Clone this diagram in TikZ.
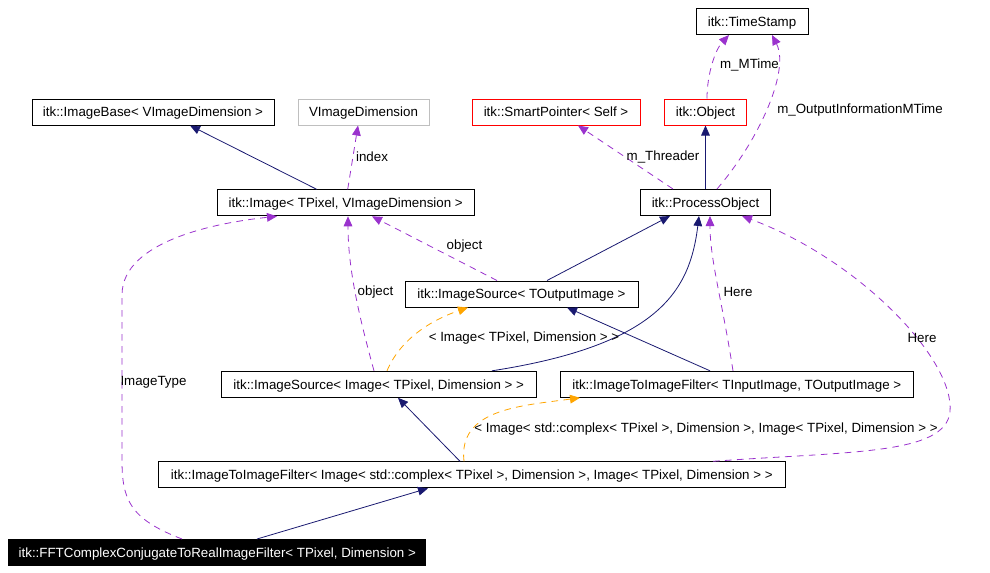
\documentclass[tikz,border=0pt]{standalone}
\usepackage{fontspec}
\setmainfont{Liberation Sans}
\usepackage{xcolor}
\usepackage{tikz}
\usetikzlibrary{calc, arrows.meta}

\definecolor{xanhdam}{HTML}{191970}
\definecolor{tim}{HTML}{9A32CD}
\definecolor{cam}{HTML}{FFA500}

\begin{document}
\begin{tikzpicture}[x=0.75pt, y=-0.75pt,
    every node/.style={font=\fontsize{10}{12}\selectfont},
    box/.style={draw=black, line width=0.75pt, rectangle, inner sep=0pt, minimum height=19.5pt, text height=7.3pt, text depth=0pt},
    boxred/.style={box, draw=red},
    boxgray/.style={box, draw=black!25},
    boxdark/.style={box, fill=black, text=white},
    inherit/.style={draw=xanhdam, line width=0.6pt, -{Triangle[length=7.5pt,width=6.5pt]}},
    usage/.style={draw=tim, line width=0.6pt, dash pattern=on 5pt off 4pt, -{Triangle[length=7.5pt,width=6.5pt,fill=tim]}},
    templ/.style={draw=cam, line width=0.6pt, dash pattern=on 5pt off 4pt, -{Triangle[length=7.5pt,width=6.5pt,fill=cam]}},
    lbl/.style={inner sep=0pt}]
    % Khung bao của hình
    \useasboundingbox (0,0) rectangle (990,572);

    % Các lớp (hộp) theo từng hàng
    \node[box, minimum width=84pt] (tstamp) at (752,21.5) {itk::TimeStamp};
    \node[box, minimum width=181.5pt] (ibase) at (153,112) {itk::ImageBase< VImageDimension >};
    \node[boxgray, minimum width=98.25pt] (vdim) at (363.5,112) {VImageDimension};
    \node[boxred, minimum width=126pt] (sptr) at (556,112) {itk::SmartPointer< Self >};
    \node[boxred, minimum width=61.5pt] (obj) at (705.5,112) {itk::Object};
    \node[box, minimum width=97.5pt] (pobj) at (705.5,202.5) {itk::ProcessObject};
    \node[box, minimum width=192.75pt] (img) at (345.7,202.8) {itk::Image< TPixel, VImageDimension >};
    \node[box, minimum width=174.75pt] (isrcout) at (521.5,294) {itk::ImageSource< TOutputImage >};
    \node[box, minimum width=236.25pt] (isrcimg) at (378.7,384.3) {itk::ImageSource< Image< TPixel, Dimension > >};
    \node[box, minimum width=264.75pt] (itifio) at (736.8,384.3) {itk::ImageToImageFilter< TInputImage, TOutputImage >};
    \node[box, minimum width=470.25pt] (itifcx) at (471.8,474.8) {itk::ImageToImageFilter< Image< std::complex< TPixel >, Dimension >, Image< TPixel, Dimension > >};
    \node[boxdark, minimum width=312.75pt] (fft) at (217.3,552.5) {itk::FFTComplexConjugateToRealImageFilter< TPixel, Dimension >};

    % Quan hệ kế thừa (nét liền)
    \draw[inherit] ($(img.north)+(-29,0)$) -- ($(ibase.south)+(37,0)$);
    \draw[inherit] (pobj.north) -- (obj.south);
    \draw[inherit] ($(isrcout.north)+(25.5,0)$) -- ($(pobj.south)+(-35.5,0)$);
    \draw[inherit] ($(isrcimg.north)+(113.3,0)$) .. controls +(168,-26) and +(-9,74) .. ($(pobj.south)+(-6.5,0)$);
    \draw[inherit] ($(itifio.north)+(-26.8,0)$) -- ($(isrcout.south)+(45.5,0)$);
    \draw[inherit] ($(itifcx.north)+(-11.8,0)$) -- ($(isrcimg.south)+(19.3,0)$);
    \draw[inherit] ($(fft.north)+(39.7,0)$) -- ($(itifcx.south)+(-43.8,0)$);

    % Quan hệ sử dụng (nét đứt tím)
    \draw[usage] ($(img.north)+(2,0)$) -- ($(vdim.south)+(-5.5,0)$);
    \draw[usage] ($(pobj.north)+(-32.5,0)$) -- ($(sptr.south)+(22,0)$);
    \draw[usage] ($(obj.north)+(1.5,0)$) .. controls +(0,-24) and +(-14,15) .. ($(tstamp.south)+(-23,0)$);
    \draw[usage] ($(pobj.north)+(11.5,0)$) .. controls +(43,-50) and +(18,35) .. ($(tstamp.south)+(20,0)$);
    \draw[usage] ($(isrcout.north)+(-24.5,0)$) -- ($(img.south)+(26.3,0)$);
    \draw[usage] ($(isrcimg.north)+(-4.7,0)$) .. controls +(-14,-51) and +(0,54) .. ($(img.south)+(2.3,0)$);
    \draw[usage] ($(itifio.north)+(-3.8,0)$) .. controls +(-11,-71) and +(0,44) .. ($(pobj.south)+(4.5,0)$);
    \draw[usage] ($(itifcx.north)+(241.2,0)$) .. controls +(137,-10) and +(-5,43) .. (950,412)
        .. controls +(5,-52) and +(118,44) .. ($(pobj.south)+(36.5,0)$);
    \draw[usage] ($(fft.north)+(-35.3,0)$) .. controls +(-52,-20) and +(0,40) .. (122,460) -- (122,295)
        .. controls +(0,-55) and +(-57,6) .. ($(img.south)+(-68.7,0)$);

    % Quan hệ mẫu (nét đứt cam)
    \draw[templ] ($(isrcimg.north)+(8.3,0)$) .. controls +(13,-31) and +(-38,13) .. ($(isrcout.south)+(-53.5,0)$);
    \draw[templ] ($(itifcx.north)+(-7.8,0)$) .. controls +(-6,-52) and +(-60,8) .. ($(itifio.south)+(-156.8,0)$);

    % Nhãn trên các cạnh
    \node[lbl] (lindex) at (372,157) {index};
    \node[lbl] (lmtime) at (749.5,65) {m\_MTime};
    \node[lbl] (loutinfo) at (860,110) {m\_OutputInformationMTime};
    \node[lbl] (lthreader) at (663,157) {m\_Threader};
    \node[lbl] (lobject) at (464.5,246) {object};
    \node[lbl] (lobjectb) at (375.5,292.5) {object};
    \node[lbl] (limgtype) at (153.5,382.5) {ImageType};
    \node[lbl] (ltplimg) at (524,338.5) {< Image< TPixel, Dimension > >};
    \node[lbl] (lhere) at (738,292) {Here};
    \node[lbl] (lhereb) at (922,337.5) {Here};
    \node[lbl] (ltplcx) at (706,429) {< Image< std::complex< TPixel >, Dimension >, Image< TPixel, Dimension > >};
\end{tikzpicture}
\end{document}
